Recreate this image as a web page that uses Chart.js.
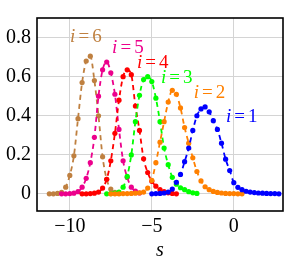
<!DOCTYPE html>
<html>
<head>
<meta charset="utf-8">
<script src="https://cdn.jsdelivr.net/npm/chart.js@4.4.0/dist/chart.umd.min.js"></script>
<style>
  html, body { margin: 0; padding: 0; background: #fff; }
  #wrap { width: 290px; height: 260px; }
</style>
</head>
<body>
<div id="wrap"><canvas id="myChart" width="290" height="260"></canvas></div>
<script>
// data, one pair of arrays per curve
var s1 = [-5,-4.75,-4.5,-4.25,-4,-3.75,-3.5,-3.25,-3,-2.75,-2.5,-2.25,-2,-1.75,-1.5,-1.25,-1,-0.75,-0.5,-0.25,0,0.25,0.5,0.75,1,1.25,1.5,1.75,2,2.25,2.5,2.75];
var p1 = [0.001,0.002,0.003,0.005,0.01,0.025,0.06,0.1,0.165,0.235,0.325,0.4,0.435,0.445,0.42,0.375,0.33,0.26,0.178,0.12,0.058,0.034,0.022,0.014,0.01,0.007,0.005,0.004,0.003,0.002,0.002,0.001];

var s2 = [-7.5,-7.25,-7,-6.75,-6.5,-6.25,-6,-5.75,-5.5,-5.25,-5,-4.75,-4.5,-4.25,-4,-3.75,-3.5,-3.25,-3,-2.75,-2.5,-2.25,-2,-1.75,-1.5,-1.25,-1,-0.75,-0.5,-0.25,0,0.25,0.5];
var p2 = [0.001,0.001,0.001,0.002,0.002,0.003,0.004,0.006,0.01,0.03,0.07,0.16,0.265,0.37,0.47,0.53,0.51,0.44,0.34,0.26,0.185,0.115,0.067,0.037,0.022,0.013,0.008,0.005,0.003,0.002,0.002,0.001,0.001];

var s3 = [-7.75,-7.5,-7.25,-7,-6.75,-6.5,-6.25,-6,-5.75,-5.5,-5.25,-5,-4.75,-4.5,-4.25,-4,-3.75,-3.5,-3.25,-3,-2.75,-2.5,-2.25];
var p3 = [0.001,0.002,0.004,0.01,0.035,0.09,0.2,0.37,0.505,0.585,0.6,0.575,0.49,0.37,0.235,0.15,0.085,0.05,0.032,0.022,0.012,0.006,0.003];

var s4 = [-9.25,-9,-8.75,-8.5,-8.25,-8,-7.75,-7.5,-7.25,-7,-6.75,-6.5,-6.25,-6,-5.75,-5.5,-5.25,-5,-4.75,-4.5,-4.25,-4,-3.75,-3.5];
var p4 = [0.001,0.001,0.002,0.004,0.01,0.03,0.075,0.17,0.31,0.48,0.6,0.635,0.61,0.45,0.325,0.18,0.11,0.065,0.04,0.022,0.012,0.006,0.003,0.001];

var s5 = [-10.5,-10.25,-10,-9.75,-9.5,-9.25,-9,-8.75,-8.5,-8.25,-8,-7.75,-7.5,-7.25,-7,-6.75,-6.5,-6.25,-6,-5.75];
var p5 = [0.001,0.001,0.002,0.004,0.012,0.035,0.08,0.16,0.29,0.5,0.635,0.675,0.62,0.51,0.33,0.17,0.085,0.035,0.015,0.005];

var s6 = [-11.25,-11,-10.75,-10.5,-10.25,-10,-9.75,-9.5,-9.25,-9,-8.75,-8.5,-8.25,-8,-7.75,-7.5,-7.25,-7];
var p6 = [0.001,0.001,0.003,0.008,0.035,0.095,0.195,0.385,0.57,0.68,0.705,0.58,0.4,0.19,0.075,0.025,0.008,0.003];

var curveNames = ['1','2','3','4','5','6'];
var xTicks = [-10, -5, 0];
var yTicks = [0, 0.2, 0.4, 0.6, 0.8];
// where the i=.. labels sit (data coords)
var labelS = [0.49, -1.48, -3.48, -4.94, -6.46, -9.02];
var labelY = [0.393, 0.516, 0.593, 0.672, 0.749, 0.802];

var colors = ['#0000ff', '#ff8000', '#00ff00', '#ff0000', '#ec008c', '#bf8040'];
var allS = [s1, s2, s3, s4, s5, s6];
var allP = [p1, p2, p3, p4, p5, p6];

function pairs(xs, ys){
	var out = [];
	for(let i=0;i<xs.length;i++){
		out.push({x: xs[i], y: ys[i]});
	}
	return out;
}

var datasets = [];
for(let k=0;k<allS.length;k++){
	datasets.push({
		data: pairs(allS[k], allP[k]),
		showLine: true,
		borderColor: colors[k],
		backgroundColor: colors[k],
		borderWidth: 1.8,
		borderDash: [5, 4],
		pointRadius: 2.6,
		pointBorderWidth: 0,
		pointHoverRadius: 2.6,
		cubicInterpolationMode: 'monotone',
		fill: false
	});
}

var serif = '"Liberation Serif", "DejaVu Serif", serif';

var framePlugin = {
	id: 'frame',
	afterDatasetsDraw: function(chart){
		var ctx = chart.ctx;
		var xs = chart.scales.x, ys = chart.scales.y;
		var fs = 19;
		for(let k=0;k<curveNames.length;k++){
			var cx = xs.getPixelForValue(labelS[k]);
			var cy = ys.getPixelForValue(labelY[k]);
			ctx.save();
			ctx.fillStyle = colors[k];
			ctx.textBaseline = 'middle';
			ctx.textAlign = 'left';
			ctx.font = 'italic ' + fs + 'px ' + serif;
			var wi = ctx.measureText('i').width;
			ctx.font = fs + 'px ' + serif;
			var we = ctx.measureText('=').width;
			var wn = ctx.measureText(curveNames[k]).width;
			var gap = fs * 0.16;
			var x0 = cx - (wi + gap + we + gap + wn) / 2;
			ctx.font = 'italic ' + fs + 'px ' + serif;
			ctx.fillText('i', x0, cy);
			ctx.font = fs + 'px ' + serif;
			ctx.fillText('=', x0 + wi + gap, cy);
			ctx.fillText(curveNames[k], x0 + wi + gap + we + gap, cy);
			ctx.restore();
		}
	},
	afterDraw: function(chart){
		var a = chart.chartArea, ctx = chart.ctx;
		ctx.save();
		ctx.strokeStyle = '#000';
		ctx.lineWidth = 1.6;
		ctx.strokeRect(a.left, a.top, a.right - a.left, a.bottom - a.top);
		ctx.restore();
	}
};

new Chart("myChart", {
	type: "scatter",
	data: { datasets: datasets },
	plugins: [framePlugin],
	options: {
		responsive: false,
		animation: false,
		events: [],
		layout: { padding: { left: 0, top: 7, right: 7, bottom: 0 } },
		plugins: {
			legend: { display: false },
			tooltip: { enabled: false }
		},
		scales: {
			x: {
				type: 'linear',
				min: -12,
				max: 3,
				afterBuildTicks: function(axis){
					axis.ticks = xTicks.map(function(v){ return {value: v}; });
				},
				afterFit: function(axis){ axis.height = 49; },
				ticks: {
					color: '#000',
					padding: 4,
					maxRotation: 0,
					font: { family: serif, size: 20 },
					callback: function(v){ return v < 0 ? '\u2212' + (-v) : '' + v; }
				},
				grid: { color: '#d4d4d4', lineWidth: 1, drawTicks: false },
				border: { display: false },
				title: {
					display: true,
					text: 's',
					color: '#000',
					padding: 0,
					font: { family: serif, size: 20, style: 'italic', lineHeight: 0.95 }
				}
			},
			y: {
				type: 'linear',
				min: -0.087,
				max: 0.9,
				afterBuildTicks: function(axis){
					axis.ticks = yTicks.map(function(v){ return {value: v}; });
				},
				afterFit: function(axis){ axis.width = 37; },
				ticks: {
					color: '#000',
					padding: 6,
					font: { family: serif, size: 20 },
					callback: function(v){ return '' + v; }
				},
				grid: { color: '#d4d4d4', lineWidth: 1, drawTicks: false },
				border: { display: false }
			}
		}
	}
});
</script>
</body>
</html>
